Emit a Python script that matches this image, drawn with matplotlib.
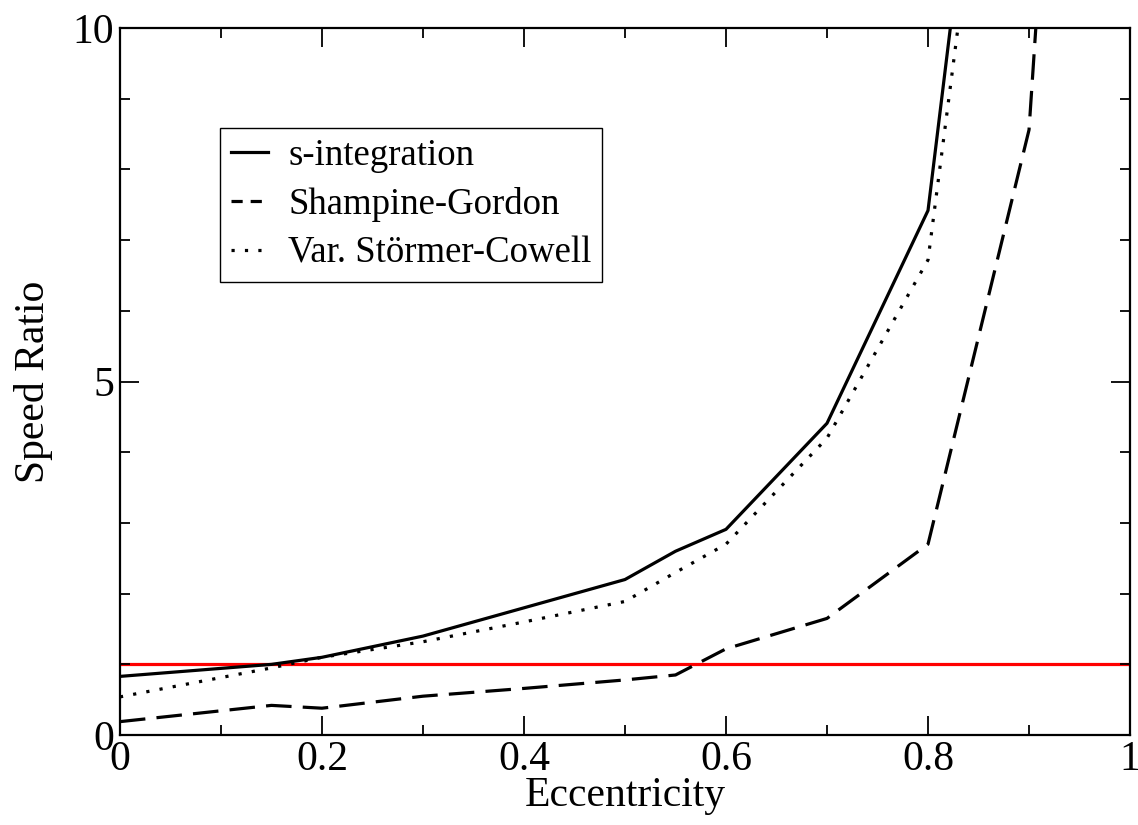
import matplotlib
matplotlib.use("Agg")
import matplotlib.pyplot as plt
from matplotlib.ticker import MultipleLocator

# data
ecc_s = [0.0, 0.15, 0.2, 0.3, 0.4, 0.5, 0.55, 0.6, 0.7, 0.8, 0.9]
s_integration = [0.83, 1.0, 1.1, 1.4, 1.8, 2.2, 2.6, 2.91, 4.41, 7.42, 19.1]

ecc_sg = [0.0, 0.15, 0.2, 0.3, 0.4, 0.5, 0.55, 0.6, 0.7, 0.8, 0.9, 1.0]
shampine_gordon = [0.19, 0.42, 0.38, 0.55, 0.66, 0.78, 0.85, 1.22, 1.65, 2.7, 8.56, 30.0]

ecc_sc = [0.0, 0.15, 0.2, 0.3, 0.4, 0.5, 0.55, 0.6, 0.7, 0.8, 0.9]
stormer_cowell = [0.54, 0.95, 1.1, 1.32, 1.6, 1.89, 2.3, 2.7, 4.2, 6.72, 17.8]

ref_ratio = 1.0

x_ticks = [0, 0.2, 0.4, 0.6, 0.8, 1.0]
x_ticklabels = ['0', '0.2', '0.4', '0.6', '0.8', '1']
y_ticks = [0, 5, 10]
y_ticklabels = ['0', '5', '10']

plt.rcParams['font.family'] = ['Liberation Serif', 'DejaVu Serif']

fig = plt.figure(figsize=(11.38, 8.25), dpi=100)
ax = fig.add_axes([0.1054, 0.109, 0.8876, 0.857])

# red reference line at ratio 1
ax.axhline(ref_ratio, color='#ff0000', lw=2.3, zorder=1)
ax.plot(ecc_s, s_integration, color='black', lw=2.3, label='s-integration')
ax.plot(ecc_sg, shampine_gordon, color='black', lw=2.3, dashes=(8, 3.5),
        label='Shampine-Gordon')
ax.plot(ecc_sc, stormer_cowell, color='black', lw=2.3, dashes=(1, 3.2),
        label='Var. Störmer-Cowell')

ax.set_xlim(0, 1)
ax.set_ylim(0, 10)
ax.set_xticks(x_ticks)
ax.set_xticklabels(x_ticklabels, fontsize=30)
ax.xaxis.set_minor_locator(MultipleLocator(0.1))
ax.set_yticks(y_ticks)
ax.set_yticklabels(y_ticklabels, fontsize=30)
ax.yaxis.set_minor_locator(MultipleLocator(1))

ax.tick_params(which='both', direction='in', top=True, right=True, width=1.3)
ax.tick_params(which='major', length=14, pad=4)
ax.tick_params(which='minor', length=7)
for sp in ax.spines.values():
    sp.set_linewidth(1.6)

ax.set_xlabel('Eccentricity', fontsize=30, labelpad=-2)
ax.set_ylabel('Speed Ratio', fontsize=30, labelpad=14)

leg = ax.legend(loc='upper left', bbox_to_anchor=(0.099, 0.859), borderaxespad=0,
                fontsize=26.5, handlelength=1.0, handletextpad=0.55, labelspacing=0.38,
                borderpad=0.3, fancybox=False, framealpha=1)
leg.get_frame().set_edgecolor('black')
leg.get_frame().set_linewidth(1.0)
# shorter dashes in the legend sample, as in the reference
leg.get_lines()[1].set_dashes((3.5, 2.5))

fig.savefig('out.png', dpi=100)
